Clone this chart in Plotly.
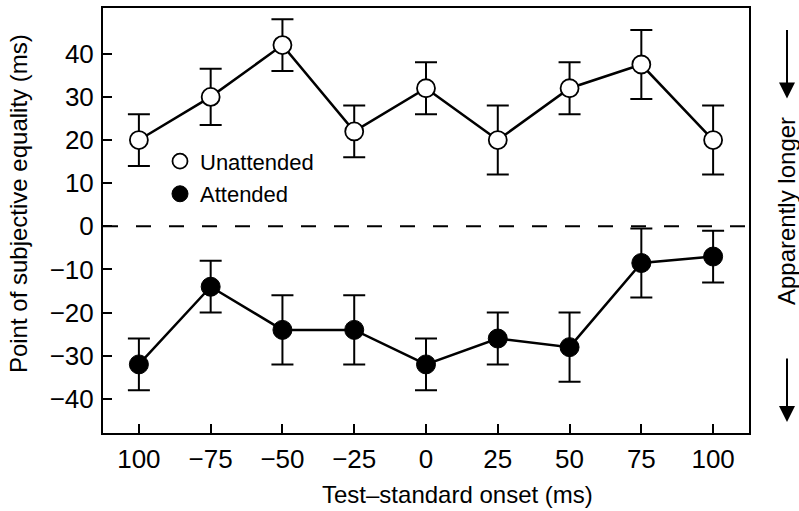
import plotly.graph_objects as go

# ---- data ----
x_labels = ["100", "\u221275", "\u221250", "\u221225", "0", "25", "50", "75", "100"]
unattended = [20, 30, 42, 22, 32, 20, 32, 37.5, 20]
unattended_err = [6, 6.5, 6, 6, 6, 8, 6, 8, 8]
attended = [-32, -14, -24, -24, -32, -26, -28, -8.5, -7]
attended_err = [6, 6, 8, 8, 6, 6, 8, 8, 6]
y_ticks = [-40, -30, -20, -10, 0, 10, 20, 30, 40]

x_pos = list(range(len(x_labels)))
FONT = "Liberation Sans, Arial, Helvetica, sans-serif"

fig = go.Figure()

err_style = dict(type="data", thickness=2, width=11, color="black")

fig.add_trace(go.Scatter(
    x=x_pos, y=unattended, mode="lines+markers", name="Unattended",
    showlegend=False,
    line=dict(color="black", width=2.5),
    marker=dict(symbol="circle", size=18, color="white", line=dict(color="black", width=1.8)),
    error_y=dict(array=unattended_err, **err_style),
))
fig.add_trace(go.Scatter(
    x=x_pos, y=attended, mode="lines+markers", name="Attended",
    showlegend=False,
    line=dict(color="black", width=2.5),
    marker=dict(symbol="circle", size=19, color="black", line=dict(color="black", width=1)),
    error_y=dict(array=attended_err, **err_style),
))

# legend-only entries
fig.add_trace(go.Scatter(
    x=[None], y=[None], mode="markers", name="Unattended", legendgroup="u",
    marker=dict(symbol="circle", size=15, color="white", line=dict(color="black", width=1.8)),
))
fig.add_trace(go.Scatter(
    x=[None], y=[None], mode="markers", name="Attended", legendgroup="a",
    marker=dict(symbol="circle", size=16, color="black", line=dict(color="black", width=1)),
))

# dashed zero line
fig.add_shape(type="line", xref="paper", x0=0, x1=1, yref="y", y0=0, y1=0,
              line=dict(color="black", width=2, dash="15px,18px"), layer="below")

W, H = 799, 511
L, R, T, B = 103, 50, 6, 78
pw, ph = W - L - R, H - T - B

def px_x(px):
    return (px - L) / pw

def px_y(py):
    return (H - B - py) / ph

annotations = [
    dict(text="Point of subjective equality (ms)", xref="paper", yref="paper",
         x=px_x(18), y=px_y(203), textangle=-90, showarrow=False,
         xanchor="center", yanchor="middle", font=dict(size=24, color="black", family=FONT)),
    dict(text="Test\u2013standard onset (ms)", xref="paper", yref="paper",
         x=px_x(457), y=px_y(495), showarrow=False,
         xanchor="center", yanchor="middle", font=dict(size=24, color="black", family=FONT)),
    dict(text="Apparently longer", xref="paper", yref="paper",
         x=px_x(786), y=px_y(210), textangle=-90, showarrow=False,
         xanchor="center", yanchor="middle", font=dict(size=24, color="black", family=FONT)),
    dict(text="", xref="paper", yref="paper", x=px_x(787), y=px_y(97),
         ax=0, ay=-70, axref="pixel", ayref="pixel", showarrow=True,
         arrowhead=2, arrowsize=1.6, arrowwidth=2, arrowcolor="black"),
    dict(text="", xref="paper", yref="paper", x=px_x(787), y=px_y(422),
         ax=0, ay=-65, axref="pixel", ayref="pixel", showarrow=True,
         arrowhead=2, arrowsize=1.6, arrowwidth=2, arrowcolor="black"),
]

fig.update_layout(
    width=W, height=H,
    margin=dict(l=L, r=R, t=T, b=B),
    paper_bgcolor="white", plot_bgcolor="white",
    font=dict(family=FONT, color="black", size=20),
    annotations=annotations,
    legend=dict(
        x=px_x(160), y=px_y(139), xanchor="left", yanchor="top",
        bgcolor="rgba(0,0,0,0)", borderwidth=0,
        font=dict(size=22, color="black", family=FONT),
        traceorder="grouped", tracegroupgap=1,
    ),
)

fig.update_xaxes(
    range=[-0.5, 8.5], tickmode="array", tickvals=x_pos, ticktext=x_labels,
    ticks="inside", ticklen=9, tickwidth=2, tickcolor="black",
    showline=True, linecolor="black", linewidth=2, mirror=True,
    showgrid=False, zeroline=False,
    tickfont=dict(size=26, color="black", family=FONT),
    ticklabelstandoff=2,
)
fig.update_yaxes(
    range=[-47.9, 50.6], tickmode="array", tickvals=y_ticks,
    ticks="inside", ticklen=9, tickwidth=2, tickcolor="black",
    showline=True, linecolor="black", linewidth=2, mirror=True,
    showgrid=False, zeroline=False,
    tickfont=dict(size=26, color="black", family=FONT),
    ticklabelstandoff=2,
)

fig.write_html("out.html", config={"displayModeBar": False},
               post_script="document.body.style.margin='0';document.body.style.overflow='hidden';")
